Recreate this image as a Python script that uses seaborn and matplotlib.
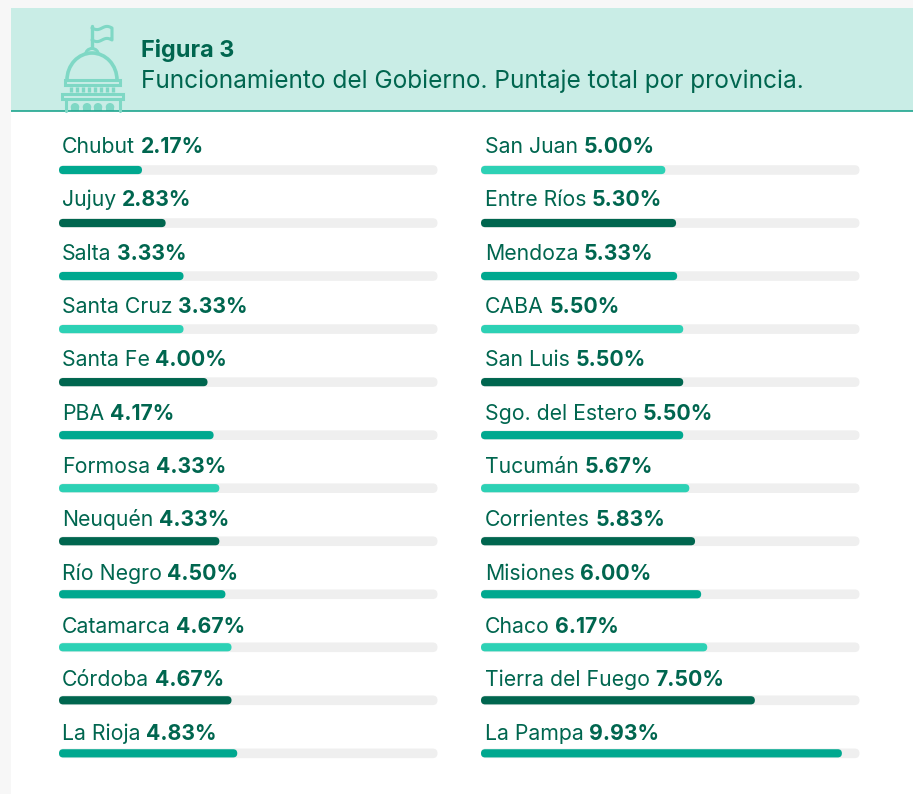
import numpy as np
import pandas as pd
import matplotlib
matplotlib.use('Agg')
import matplotlib.pyplot as plt
from matplotlib.patches import Rectangle, FancyBboxPatch, Arc, Ellipse
import seaborn as sns

left_names = ['Chubut', 'Jujuy', 'Salta', 'Santa Cruz', 'Santa Fe', 'PBA', 'Formosa', 'Neuquén', 'Río Negro', 'Catamarca', 'Córdoba', 'La Rioja']
left_values = [2.17, 2.83, 3.33, 3.33, 4.00, 4.17, 4.33, 4.33, 4.50, 4.67, 4.67, 4.83]
right_names = ['San Juan', 'Entre Ríos', 'Mendoza', 'CABA', 'San Luis', 'Sgo. del Estero', 'Tucumán', 'Corrientes', 'Misiones', 'Chaco', 'Tierra del Fuego', 'La Pampa']
right_values = [5.00, 5.30, 5.33, 5.50, 5.50, 5.50, 5.67, 5.83, 6.00, 6.17, 7.50, 9.93]

TEAL = '#00a88f'
DARK = '#00664f'
LIGHT = '#2dd1b5'
left_colors = [TEAL, DARK, TEAL, LIGHT, DARK, TEAL, LIGHT, DARK, TEAL, LIGHT, DARK, TEAL]
right_colors = [LIGHT, DARK, TEAL, LIGHT, DARK, TEAL, LIGHT, DARK, TEAL, LIGHT, DARK, TEAL]

title = 'Figura 3'
subtitle = 'Funcionamiento del Gobierno. Puntaje total por provincia.'
track_max = 10.57

W, H = 913, 794
ROW = 53.03
TEXT_ROW = 53.35
CAP = 5.3  # px the round end sticks out past the value
ICON = '#7fd8c5'
FONT = ['Inter', 'DejaVu Sans']

sns.set_style('white')
plt.rcParams['font.family'] = FONT

fig = plt.figure(figsize=(W / 100, H / 100), dpi=100, facecolor='#f7f7f7')

# full figure layer in pixels for the header and the icon
bg = fig.add_axes([0, 0, 1, 1], zorder=0)
bg.set_xlim(0, W)
bg.set_ylim(H, 0)
bg.axis('off')
bg.add_patch(Rectangle((11, 8), W - 11, H, color='white', lw=0))
bg.add_patch(Rectangle((11, 8), W - 11, 103, color='#c9ede6', lw=0))
bg.plot([11, W], [111.3, 111.3], color='#1fa58f', lw=1.2, solid_capstyle='butt')

bg.plot([92, 92], [26, 47], color=ICON, lw=2.4)
t = np.linspace(0, 1, 30)
wave = 1.6 * np.sin(t * 2 * np.pi)
bg.plot(np.r_[92 + 20 * t, 112, 112 - 20 * t], np.r_[28 + wave, 28, 40 - wave], color=ICON, lw=2.2)
bg.add_patch(Arc((92, 55), 13, 13, theta1=180, theta2=360, ec=ICON, lw=2.2))
bg.add_patch(Arc((92, 80), 50, 54, theta1=180, theta2=360, ec=ICON, lw=2.6))
bg.add_patch(Rectangle((65, 80), 55, 5, fill=False, ec=ICON, lw=2.2))
bg.add_patch(Rectangle((62, 94), 61, 5, fill=False, ec=ICON, lw=2.2))
for cx in [71, 77, 83, 89, 95, 101, 107, 113]:
    bg.plot([cx, cx], [87, 92], color=ICON, lw=2.4, solid_capstyle='butt')
bg.plot([66, 66], [99, 111], color=ICON, lw=2.2)
bg.plot([120, 120], [99, 111], color=ICON, lw=2.2)
for cx in [75, 87, 98, 110]:
    bg.add_patch(Rectangle((cx - 4, 107), 8, 4, color=ICON, lw=0))
    bg.add_patch(Ellipse((cx, 107), 8.5, 8, color=ICON, lw=0))

bg.text(141, 57.5, title, color=DARK, fontsize=16.9, fontweight='bold', va='baseline', ha='left')
bg.text(141, 88, subtitle, color=DARK, fontsize=17.6, va='baseline', ha='left')


def rounded(ax, x, y, w, h, color, z, ratio):
    # swap a square bar for a pill of the same extent
    r = min(w, h * ratio) / 2
    ax.add_patch(FancyBboxPatch((x, y), w, h, boxstyle=f'round,pad=0,rounding_size={r}',
                                mutation_aspect=1 / ratio, fc=color, ec='none', zorder=z))


def draw_column(x0, x1, names, values, colors, text_x):
    top = 170 - ROW / 2
    height = ROW * len(names)
    ax = fig.add_axes([x0 / W, 1 - (top + height) / H, (x1 - x0) / W, height / H], zorder=1)
    df = pd.DataFrame({'name': names, 'value': values})
    sns.barplot(data=df, x='value', y='name', hue='name', palette=colors, legend=False,
                width=8.2 / ROW, saturation=1, ax=ax)
    ax.set_xlim(0, track_max)
    ax.set_ylim(len(names) - 0.5, -0.5)
    ax.axis('off')
    ax.patch.set_alpha(0)

    unit = track_max / (x1 - x0)
    ratio = unit * ROW
    track_h = 9.6 / ROW
    for patch in list(ax.patches):
        x, y, w, h = patch.get_x(), patch.get_y(), patch.get_width(), patch.get_height()
        color = patch.get_facecolor()
        patch.remove()
        row = y + h / 2
        rounded(ax, 0, row - track_h / 2, track_max, track_h, '#efefef', 1, ratio)
        rounded(ax, x, y, w + CAP * unit, h, color, 2, ratio)

    renderer = fig.canvas.get_renderer()
    for i, (name, value) in enumerate(zip(names, values)):
        py = 153 + i * TEXT_ROW
        label = bg.text(text_x, py, name, color=DARK, fontsize=15.3, va='baseline', ha='left')
        end = label.get_window_extent(renderer).x1
        bg.text(end + 5.5, py, f'{value:.2f}%', color=DARK, fontsize=15.3, fontweight='bold', va='baseline', ha='left')


draw_column(59, 437.5, left_names, left_values, left_colors, 62)
draw_column(481, 859.5, right_names, right_values, right_colors, 485)

fig.savefig('out.png', dpi=100, facecolor=fig.get_facecolor())
